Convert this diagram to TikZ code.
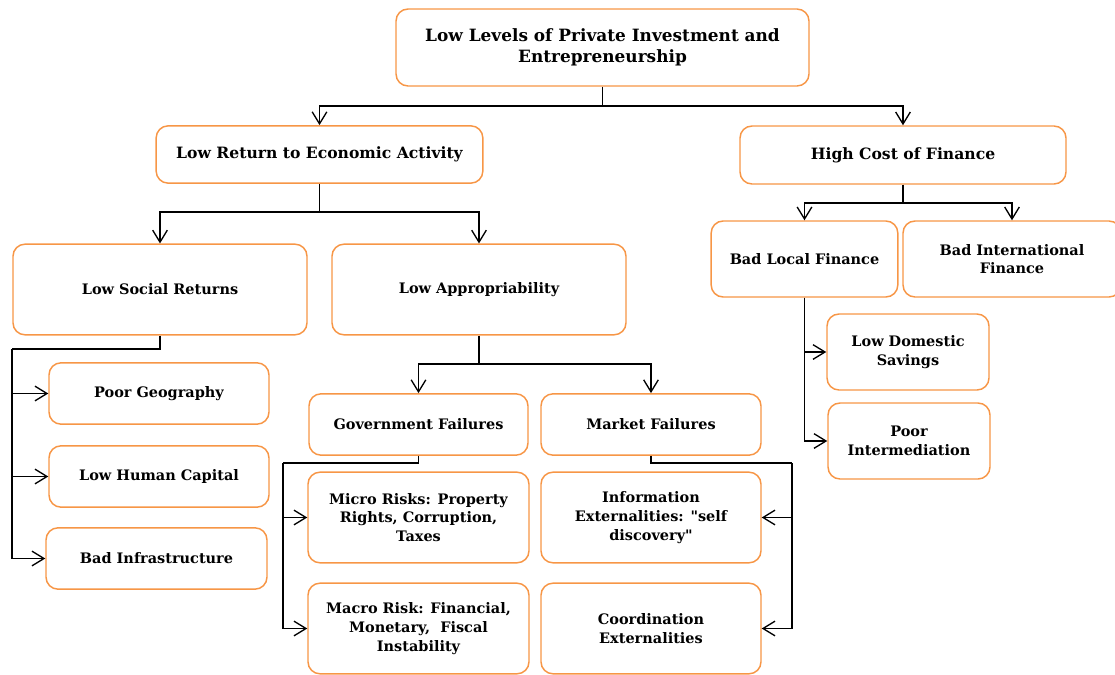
\documentclass[tikz,border=0pt]{standalone}
\usepackage{fontspec}
\setmainfont{DejaVu Serif}[Ligatures=TeXOff]
\usepackage{tikz}
\usetikzlibrary{arrows.meta}
\definecolor{boxorange}{HTML}{F79646}
\tikzset{
box/.style={rectangle, rounded corners=9pt, draw=boxorange, line width=1.1pt, fill=white,
  align=center, inner sep=2pt, font=\bfseries\fontsize{10.85}{14}\selectfont},
topbox/.style={box, font=\bfseries\fontsize{12.7}{15.75}\selectfont},
midbox/.style={box, font=\bfseries\fontsize{11.7}{14}\selectfont},
link/.style={line width=1.3pt},
arr/.style={link, -{Straight Barb[length=9pt,width=11pt,line width=1pt]}}
}

\begin{document}
\begin{tikzpicture}[x=0.75pt, y=-0.75pt]
\useasboundingbox (0,0) rectangle (1115,675);

\node [topbox, minimum width=309.75pt, minimum height=57.75pt] (LLPI) at (602.5,47.5) {Low Levels of Private Investment and\\Entrepreneurship};
\node [midbox, minimum width=245pt, minimum height=43pt] (LRE) at (319.5,154.5) {Low Return to Economic Activity};
\node [midbox, minimum width=244.5pt, minimum height=43.5pt] (HCF) at (903,155) {High Cost of Finance};

\node [box, minimum width=220.5pt, minimum height=68pt] (LSR) at (160,289.5) {Low Social Returns};
\node [box, minimum width=220.5pt, minimum height=68pt] (LA) at (479,289.5) {Low Appropriability};
\node [box, minimum width=140pt, minimum height=57pt] (BLF) at (804.5,259) {Bad Local Finance};
\node [box, minimum width=163.5pt, minimum height=57pt] (BIF) at (1012,259) {Bad International\\Finance};

\node [box, minimum width=121.5pt, minimum height=57pt] (LDS) at (908,352) {Low Domestic\\Savings};
\node [box, minimum width=121.5pt, minimum height=57pt] (PI) at (909,441) {Poor\\Intermediation};

\node [box, minimum width=165pt, minimum height=46pt] (PG) at (159,393.5) {Poor Geography};
\node [box, minimum width=165pt, minimum height=46pt] (LHC) at (159,476.5) {Low Human Capital};
\node [box, minimum width=165.75pt, minimum height=46pt] (BI) at (156.5,558.5) {Bad Infrastructure};

\node [box, minimum width=164.25pt, minimum height=46pt] (GF) at (418.5,424.5) {Government Failures};
\node [box, minimum width=165pt, minimum height=46pt] (MF) at (651,424.5) {Market Failures};
\node [box, minimum width=165.75pt, minimum height=68pt] (MR) at (418.5,517.5) {Micro Risks: Property\\Rights, Corruption,\\Taxes};
\node [box, minimum width=165pt, minimum height=68pt] (IE) at (651,517.5) {Information\\Externalities: "self\\discovery"};
\node [box, minimum width=165.75pt, minimum height=68pt] (MaR) at (418.5,628.5) {Macro Risk: Financial,\\Monetary,~ Fiscal\\Instability};
\node [box, minimum width=165pt, minimum height=68pt] (CE) at (651,628.5) {Coordination\\Externalities};

\coordinate (j1) at (602.5,106);
\coordinate (j2) at (319.5,212);
\coordinate (j3) at (12,349);
\coordinate (j4) at (479,364);
\coordinate (j5) at (903,203);
\coordinate (j6) at (283,463);
\coordinate (j7) at (792,463);

\draw [link] (LLPI.south) -- (j1);
\draw [arr] (j1) -| (LRE.north);
\draw [arr] (j1) -| (HCF.north);
\draw [link] (LRE.south) -- (j2);
\draw [arr] (j2) -| (LSR.north);
\draw [arr] (j2) -| (LA.north);
\draw [link] (HCF.south) -- (j5);
\draw [arr] (j5) -| (BLF.north);
\draw [arr] (j5) -| (BIF.north);
\draw [arr] (BLF.south) |- (LDS.west);
\draw [arr] (BLF.south) |- (PI.west);
\draw [link] (LSR.south) |- (j3);
\draw [arr] (j3) |- (PG.west);
\draw [arr] (j3) |- (LHC.west);
\draw [arr] (j3) |- (BI.west);
\draw [link] (LA.south) -- (j4);
\draw [arr] (j4) -| (GF.north);
\draw [arr] (j4) -| (MF.north);
\draw [link] (GF.south) |- (j6);
\draw [arr] (j6) |- (MR.west);
\draw [arr] (j6) |- (MaR.west);
\draw [link] (MF.south) |- (j7);
\draw [arr] (j7) |- (IE.east);
\draw [arr] (j7) |- (CE.east);
\end{tikzpicture}
\end{document}
